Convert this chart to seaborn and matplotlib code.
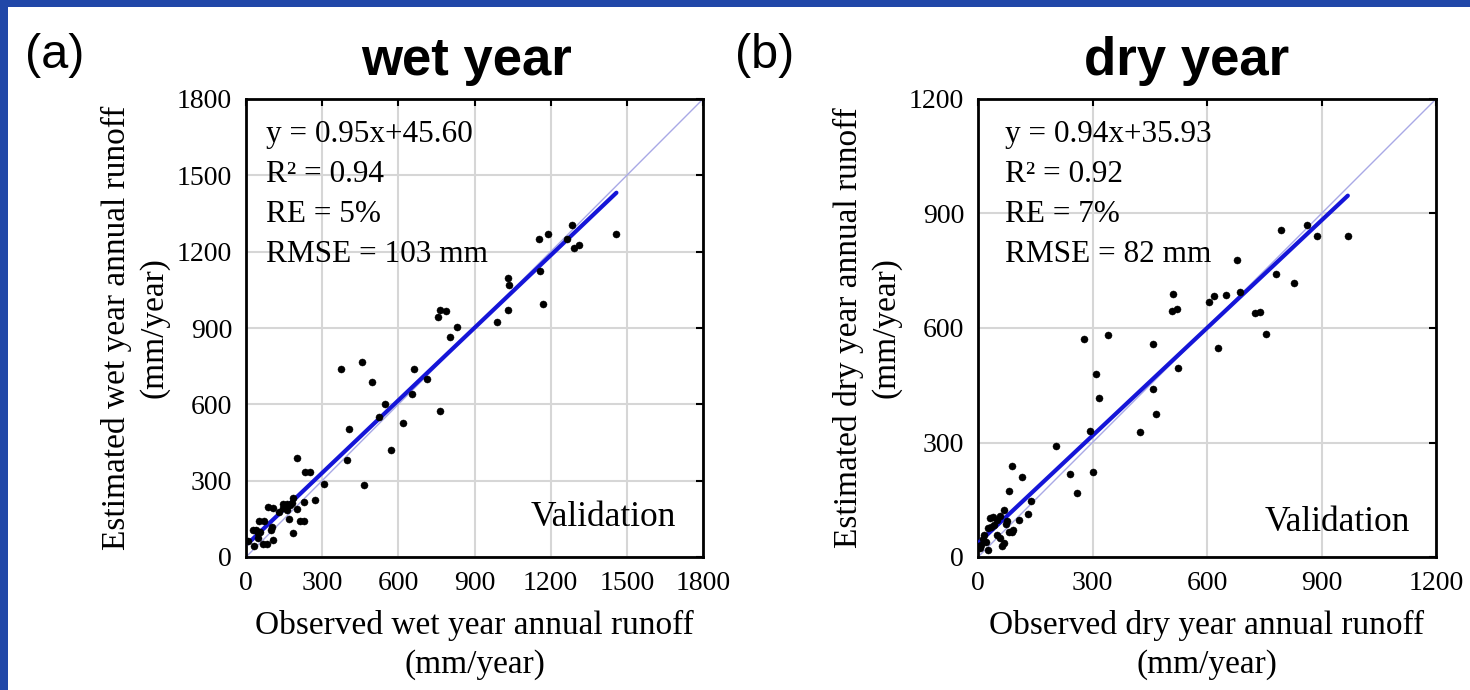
import numpy as np
import pandas as pd
import matplotlib
matplotlib.use("Agg")
import matplotlib.pyplot as plt
from matplotlib.patches import Rectangle
import seaborn as sns

# ---- wet year validation data (mm/year) ----
wet_obs = [9, 33, 26, 39, 46, 55, 48, 68, 81, 108, 98, 101, 52, 71, 85, 105,
           131, 147, 160, 147, 160, 173, 182, 186, 200, 171, 186, 213, 230, 230,
           272, 200, 234, 252, 308, 397, 407, 466, 571, 373, 458, 496, 525, 546,
           618, 655, 662, 712, 765, 755, 764, 786, 804, 831, 987, 1033, 1031,
           1036, 1154, 1188, 1158, 1171, 1266, 1285, 1292, 1312, 1459]
wet_est = [64, 43, 106, 106, 93, 100, 76, 50, 50, 67, 106, 119, 143, 143, 198,
           191, 176, 191, 185, 208, 208, 204, 211, 231, 189, 149, 93, 141, 141,
           216, 225, 390, 334, 334, 288, 380, 502, 284, 420, 739, 765, 689, 551,
           600, 527, 642, 739, 701, 573, 944, 971, 966, 866, 903, 922, 969,
           1096, 1068, 1250, 1268, 1124, 995, 1250, 1306, 1216, 1226, 1268]

# ---- dry year validation data (mm/year) ----
dry_obs = [5, 8, 14, 17, 21, 27, 25, 34, 43, 31, 40, 49, 58, 49, 58, 64, 69,
           73, 75, 82, 88, 92, 69, 107, 132, 139, 80, 114, 88, 204, 240, 259,
           302, 294, 318, 308, 279, 341, 424, 466, 459, 459, 525, 507, 521, 512,
           605, 618, 650, 630, 678, 686, 726, 739, 755, 782, 829, 795, 863, 887,
           969]
dry_est = [23, 31, 46, 58, 40, 18, 75, 79, 84, 103, 106, 97, 108, 58, 49, 29,
           36, 86, 95, 66, 66, 72, 123, 96, 113, 148, 173, 209, 238, 291, 217,
           168, 223, 331, 417, 479, 570, 582, 328, 374, 439, 557, 495, 645, 651,
           688, 669, 684, 686, 547, 779, 695, 638, 643, 584, 742, 719, 857, 871,
           841, 841]

# fitted regression coefficients and statistics
wet_fit = (0.95, 45.60)
dry_fit = (0.94, 35.93)
wet_stats = ["y = 0.95x+45.60", "R² = 0.94", "RE = 5%", "RMSE = 103 mm"]
dry_stats = ["y = 0.94x+35.93", "R² = 0.92", "RE = 7%", "RMSE = 82 mm"]

wet_ticks = [0, 300, 600, 900, 1200, 1500, 1800]
dry_ticks = [0, 300, 600, 900, 1200]

sns.set_style("white")
plt.rcParams["font.family"] = ["Liberation Serif", "DejaVu Serif"]
plt.rcParams["text.color"] = "black"
plt.rcParams["axes.labelcolor"] = "black"
plt.rcParams["xtick.color"] = "black"
plt.rcParams["ytick.color"] = "black"

SERIF = "Liberation Serif"
SANS = "Liberation Sans"

fig = plt.figure(figsize=(14.7, 6.9), dpi=100)

# blue frame along the top and left edges
fig.add_artist(Rectangle((0, 0), 1, 1, transform=fig.transFigure,
                         facecolor="#2147A8", edgecolor="none", zorder=-10))
fig.add_artist(Rectangle((8 / 1470, 0), 1, 1 - 7 / 690, transform=fig.transFigure,
                         facecolor="white", edgecolor="none", zorder=-9))


def panel(rect, obs, est, fit, stats, ticks, lim, xlabel, ylabel, stats_x):
    ax = fig.add_axes(rect)
    ax.set_facecolor("white")
    df = pd.DataFrame({"obs": obs, "est": est})

    # 1:1 reference line
    one = pd.DataFrame({"x": [0, lim], "y": [0, lim]})
    sns.lineplot(data=one, x="x", y="y", ax=ax, color="#a9a9e6", lw=1.0, zorder=2)

    # fitted regression line over the observed range
    xs = np.array([min(obs), max(obs)], dtype=float)
    line = pd.DataFrame({"x": xs, "y": fit[0] * xs + fit[1]})
    sns.lineplot(data=line, x="x", y="y", ax=ax, color="#1515d8", lw=3.0, zorder=3)

    sns.scatterplot(data=df, x="obs", y="est", ax=ax, color="black", s=26,
                    edgecolor="black", linewidth=0.3, zorder=4)

    ax.set_xlim(0, lim)
    ax.set_ylim(0, lim)
    ax.set_xticks(ticks)
    ax.set_yticks(ticks)
    ax.set_xticklabels([str(t) for t in ticks], fontsize=20, family=SERIF)
    ax.set_yticklabels([str(t) for t in ticks], fontsize=20, family=SERIF)
    ax.grid(True, color="#d6d6d6", lw=1.5, zorder=0)
    ax.set_axisbelow(True)
    ax.tick_params(direction="in", length=5, width=1.5, top=True, right=True,
                   pad=10, colors="black")
    for s in ax.spines.values():
        s.set_visible(True)
        s.set_color("black")
        s.set_linewidth(2.0)

    ax.set_xlabel(xlabel, fontsize=24, family=SERIF, labelpad=10, linespacing=1.35)
    ax.set_ylabel(ylabel, fontsize=24, family=SERIF, labelpad=5, linespacing=1.3)

    ax.text(stats_x, 0.955, "\n".join(stats), transform=ax.transAxes,
            ha="left", va="top", fontsize=22.5, family=SERIF, linespacing=1.5,
            zorder=5)
    return ax


ax_a = panel([246 / 1470, 1 - 557 / 690, 457 / 1470, 458 / 690],
             wet_obs, wet_est, wet_fit, wet_stats, wet_ticks, 1800,
             "Observed wet year annual runoff\n(mm/year)",
             "Estimated wet year annual runoff\n(mm/year)", 0.044)
ax_a.text(0.781, 0.087, "Validation", transform=ax_a.transAxes, ha="center",
          va="center", fontsize=25.5, family=SERIF)

ax_b = panel([978 / 1470, 1 - 557 / 690, 458 / 1470, 458 / 690],
             dry_obs, dry_est, dry_fit, dry_stats, dry_ticks, 1200,
             "Observed dry year annual runoff\n(mm/year)",
             "Estimated dry year annual runoff\n(mm/year)", 0.059)
ax_b.text(0.784, 0.076, "Validation", transform=ax_b.transAxes, ha="center",
          va="center", fontsize=25.5, family=SERIF)

# panel titles and letters
fig.text(467 / 1470, 1 - 61 / 690, "wet year", ha="center", va="center",
         fontsize=38, fontweight="bold", family=SANS, color="black")
fig.text(1187 / 1470, 1 - 61 / 690, "dry year", ha="center", va="center",
         fontsize=38, fontweight="bold", family=SANS, color="black")
fig.text(25 / 1470, 1 - 55 / 690, "(a)", ha="left", va="center",
         fontsize=35, family=SANS, color="black")
fig.text(735 / 1470, 1 - 55 / 690, "(b)", ha="left", va="center",
         fontsize=35, family=SANS, color="black")

fig.savefig("out.png", dpi=100)
